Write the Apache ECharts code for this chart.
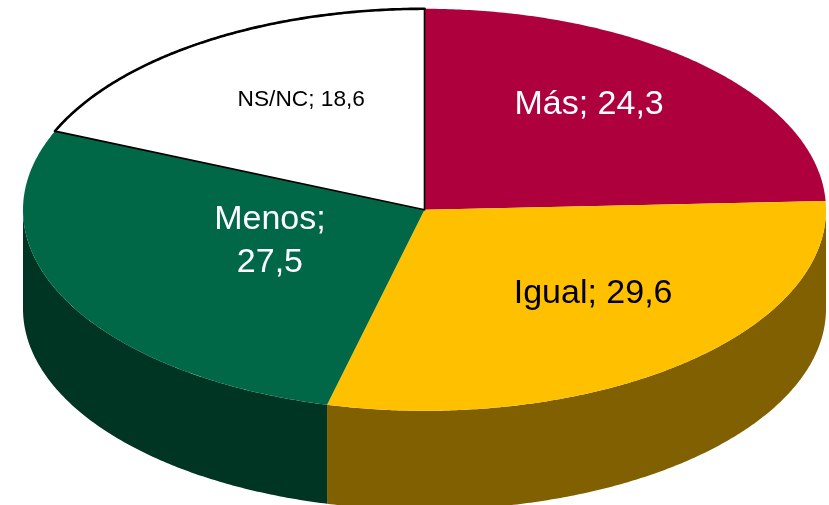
<!DOCTYPE html>
<html>
<head>
<meta charset="utf-8">
<script src="https://cdn.jsdelivr.net/npm/echarts@6/dist/echarts.min.js"></script>
<style>html,body{margin:0;padding:0;background:#fff}#c{width:829px;height:505px}</style>
</head>
<body>
<div id="c"></div>
<script>
var categories = ['Más', 'Igual', 'Menos', 'NS/NC'];
var values = [24.3, 29.6, 27.5, 18.6];
var topColors = ['#AD003D', '#FFC000', '#006846', '#FFFFFF'];
var wallColors = ['#570020', '#806000', '#003423', '#808080'];
var labelColors = ['#FFFFFF', '#000000', '#FFFFFF', '#000000'];
var labelSizes = [34, 34, 34, 22.7];
var labelSeparators = ['; ', '; ', ';\n', '; '];
// label centre as a fraction of the ellipse radii
var labelAnchors = [[0.41, -0.525], [0.42, 0.415], [-0.385, 0.155], [-0.307, -0.55]];

var CX = 424.5, CY = 209.8, RX = 401.5, RY = 201, DEPTH = 99;
var total = values.reduce(function (a, b) { return a + b; }, 0);

function pt(deg, dy) {
  var t = deg * Math.PI / 180;
  return [CX + RX * Math.sin(t), CY - RY * Math.cos(t) + (dy || 0)];
}
function arc(a0, a1, dy) {
  var n = Math.max(2, Math.ceil(Math.abs(a1 - a0) * 2)), out = [];
  for (var i = 0; i <= n; i++) out.push(pt(a0 + (a1 - a0) * i / n, dy));
  return out;
}

function renderItem(params, api) {
  var i = params.dataIndex, before = 0;
  for (var k = 0; k < i; k++) before += values[k];
  var a0 = before / total * 360;
  var a1 = a0 + api.value(1) / total * 360;
  var children = [];

  var w0 = Math.max(a0, 90), w1 = Math.min(a1, 270);
  if (w1 > w0) {
    children.push({
      type: 'polygon',
      shape: { points: arc(w0, w1, 0).concat(arc(w1, w0, DEPTH)) },
      style: { fill: wallColors[i] }
    });
  }
  var isOutlined = categories[i] === 'NS/NC';
  children.push({
    type: 'polygon',
    z2: isOutlined ? 5 : 1,
    shape: { points: [[CX, CY]].concat(arc(a0, a1, 0)) },
    style: isOutlined
      ? { fill: topColors[i], stroke: '#000000', lineWidth: 1.6, lineJoin: 'miter' }
      : { fill: topColors[i] }
  });
  if (isOutlined) {
    children.push({
      type: 'polyline',
      z2: 6,
      shape: { points: arc(a0, a1, 0) },
      style: { fill: null, stroke: '#000000', lineWidth: 2.6, lineCap: 'round' }
    });
  }
  children.push({
    type: 'text',
    z2: 10,
    x: CX + labelAnchors[i][0] * RX,
    y: CY + labelAnchors[i][1] * RY,
    style: {
      text: categories[i] + labelSeparators[i] + api.value(1).toFixed(1).replace('.', ','),
      fill: labelColors[i],
      fontFamily: '"Liberation Sans", Arial, sans-serif',
      fontSize: labelSizes[i],
      lineHeight: 43,
      align: 'center',
      verticalAlign: 'middle'
    }
  });
  return { type: 'group', children: children };
}

var chart = echarts.init(document.getElementById('c'), null, { renderer: 'canvas' });
chart.setOption({
  animation: false,
  backgroundColor: '#ffffff',
  tooltip: { show: false },
  series: [{
    type: 'custom',
    coordinateSystem: 'none',
    renderItem: renderItem,
    data: categories.map(function (c, i) { return [c, values[i]]; })
  }]
});
</script>
</body>
</html>
